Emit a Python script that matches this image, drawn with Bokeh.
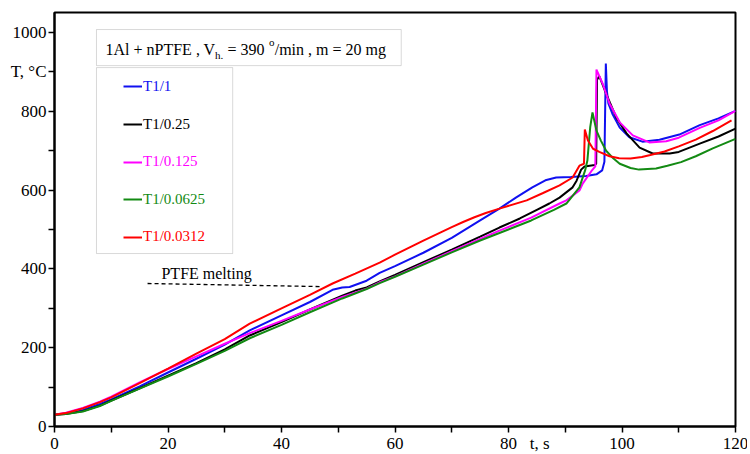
from bokeh.plotting import figure
from bokeh.models import (Range1d, FixedTicker, Label, BoxAnnotation, Legend, LegendItem)
from bokeh.embed import file_html
from bokeh.resources import INLINE

# ---------------- data ----------------
t_blue = [0, 2, 5, 8, 10, 15, 20, 25, 30, 34.4, 40, 45, 49, 50.7, 52, 55, 57.3, 60, 65, 70, 75,
          78.4, 81.3, 84.2, 86.5, 88.4, 91, 93.7, 95.5, 96.5, 96.9, 97.15, 97.35, 97.6, 98.3,
          99.6, 101.3, 103.6, 106.6, 110.1, 113.7, 117, 120]
T_blue = [30, 33, 42, 57, 69, 102, 137, 172, 208, 244, 282, 316, 347, 353, 354, 370, 390, 407,
          441, 479, 523, 553, 581, 607, 625, 632, 633, 636, 640, 650, 672, 921, 850, 820, 794,
          759, 734, 723, 728, 741, 765, 782, 801]

t_black = [0, 2, 5, 8, 10, 15, 20, 25, 30, 34.4, 40, 45, 50.7, 53, 55, 57.3, 60, 65, 70, 75,
           78.4, 82, 85, 87.2, 89, 91.3, 92, 92.8, 93.4, 95.2, 95.45, 95.6, 96, 97.2, 99, 100.8,
           103.1, 105.4, 108.4, 110, 113.7, 117, 120]
T_black = [30, 32, 39, 53, 66, 97, 129, 161, 196, 231, 265, 297, 332, 345, 353, 368, 385, 417,
           449, 482, 505, 528, 550, 566, 581, 607, 624, 652, 660, 664, 667, 880, 889, 845, 784,
           744, 708, 693, 693, 697, 718, 736, 756]

t_magenta = [0, 2, 5, 8, 10, 15, 20, 25, 30, 34.4, 40, 45, 50.7, 55, 57.3, 60, 65, 70, 75,
             78.4, 84, 89, 90.2, 92.5, 93.1, 94.6, 95.3, 95.5, 96.6, 97.8, 99.6, 101.9, 104.8,
             107.8, 110, 113.7, 117, 120]
T_magenta = [30, 35, 47, 63, 76, 112, 146, 178, 210, 237, 268, 297, 329, 350, 366, 381, 413,
             445, 476, 497, 530, 566, 574, 599, 617, 648, 660, 906, 870, 820, 772, 739, 721,
             724, 733, 758, 777, 801]

t_green = [0, 2, 5, 8, 10, 15, 20, 25, 30, 34.4, 40, 45, 50.7, 55, 57.3, 60, 65, 70, 75, 78.4,
           84, 88, 90.2, 92.5, 93.5, 93.9, 94.4, 94.8, 95.5, 96.3, 97.2, 98.5, 99.6, 101.5, 103,
           106, 108, 110.4, 113, 116, 120]
T_green = [30, 32, 38, 52, 65, 96, 127, 159, 192, 224, 258, 290, 325, 349, 364, 380, 411, 442,
           472, 491, 523, 550, 566, 607, 650, 675, 760, 797, 751, 725, 700, 680, 667, 656, 652,
           655, 662, 671, 686, 706, 730]

t_red = [0, 2, 5, 8, 10, 15, 20, 25, 30, 34.4, 40, 45, 49, 53, 57.3, 60, 65, 70, 72, 74, 76,
         78.4, 83.2, 86, 89, 91.3, 92.5, 93.3, 93.45, 94.0, 94.9, 96, 97.8, 99.5, 101.5, 103.5,
         105, 107.5, 110, 113, 116, 119.3]
T_red = [30, 34, 46, 62, 74, 110, 147, 185, 222, 261, 300, 334, 363, 388, 416, 436, 472, 506,
         519, 531, 542, 553, 574, 592, 612, 632, 662, 667, 754, 726, 705, 697, 686, 681, 680,
         684, 689, 698, 711, 728, 750, 777]

series_names = ["T1/1", "T1/0.25", "T1/0.125", "T1/0.0625", "T1/0.0312"]
series_colors = ["#1010f0", "#000000", "#ff00ff", "#138a13", "#ff0000"]

x_label_ticks = [0, 20, 40, 60, 80, 100, 120]
x_mark_ticks = [0, 10, 20, 30, 40, 50, 60, 70, 80, 90, 100, 110, 120]
x_name_pos = 85.5
x_name = "t, s"
y_label_ticks = [0, 200, 400, 600, 800, 900, 1000]
y_mark_ticks = [0, 100, 200, 300, 400, 500, 600, 700, 800, 900, 1000]
y_labels = {0: "0", 200: "200", 400: "400", 600: "600", 800: "800", 900: "T, \u00b0C",
            1000: "1000"}

ptfe_x = [16.4, 47.2]
ptfe_y = [363, 355]

FONT = "'Liberation Serif', 'Times New Roman', serif"

# ---------------- figure ----------------
p = figure(frame_width=681, frame_height=414, output_backend="svg", toolbar_location=None,
           x_range=Range1d(0, 120), y_range=Range1d(0, 1050.8),
           min_border_left=54, min_border_top=12, min_border_right=12, min_border_bottom=26)
p.grid.visible = False
p.outline_line_color = "black"
p.outline_line_width = 2
p.background_fill_color = "white"
p.border_fill_color = "white"

for ax in (p.xaxis[0], p.yaxis[0]):
    ax.axis_line_width = 2
    ax.axis_line_color = "black"
    ax.major_tick_in = 0
    ax.major_tick_out = 0
    ax.minor_tick_in = 0
    ax.minor_tick_out = 6
    ax.minor_tick_line_width = 1.5
    ax.minor_tick_line_color = "black"
    ax.major_label_text_font = FONT
    ax.major_label_text_font_size = "17px"
    ax.major_label_text_color = "black"

p.xaxis[0].ticker = FixedTicker(ticks=x_label_ticks + [x_name_pos], minor_ticks=x_mark_ticks)
p.xaxis[0].major_label_overrides = {x_name_pos: x_name}
p.xaxis[0].major_label_standoff = 1
p.yaxis[0].ticker = FixedTicker(ticks=y_label_ticks, minor_ticks=y_mark_ticks)
p.yaxis[0].major_label_overrides = y_labels
p.yaxis[0].major_label_standoff = 2

# ---------------- curves ----------------
data = [(t_blue, T_blue), (t_black, T_black), (t_magenta, T_magenta), (t_green, T_green),
        (t_red, T_red)]
renderers = []
for (tx, ty), col in zip(data, series_colors):
    r = p.line(tx, ty, line_color=col, line_width=2)
    renderers.append(r)

# PTFE melting annotation
p.line(ptfe_x, ptfe_y, line_color="black", line_width=1.3, line_dash="4 3")
p.add_layout(Label(x=18.85, y=388, text="PTFE melting", text_font=FONT, text_font_size="16px",
                   text_color="black", text_baseline="middle", text_align="left"))

# title box
p.add_layout(BoxAnnotation(left=7.4, right=61.1, bottom=916, top=1007.6, fill_color="white",
                           fill_alpha=1, line_color="#808080", line_width=1, level="annotation"))
ty_mid = 957.6
title_parts = [
    (8.99, ty_mid, "1Al + nPTFE , V", "16px"),
    (28.3, 944, "h.", "11px"),
    (30.5, ty_mid, "= 390", "16px"),
    (37.8, 976, "o", "11px"),
    (38.8, ty_mid, "/min , m = 20 mg", "16px"),
]
for x, y, txt, fs in title_parts:
    p.add_layout(Label(x=x, y=y, text=txt, text_font=FONT, text_font_size=fs,
                       text_color="black", text_baseline="middle", text_align="left"))

# legend box
p.add_layout(BoxAnnotation(left=7.4, right=31.4, bottom=439, top=911, fill_color="white",
                           fill_alpha=1, line_color="#808080", line_width=1, level="annotation"))
legend_centers = [86, 124, 161.5, 199, 236.5]  # page pixel rows of entries
for r, name, col, yc in zip(renderers, series_names, series_colors, legend_centers):
    leg = Legend(items=[LegendItem(label=name, renderers=[r])],
                 location=(69, 426 - yc - 9), orientation="vertical",
                 border_line_color=None, background_fill_alpha=0, padding=0, margin=0,
                 spacing=0, glyph_width=19, glyph_height=18, label_height=18,
                 label_standoff=1, label_text_font=FONT, label_text_font_size="15px",
                 label_text_color=col, label_text_baseline="middle")
    p.add_layout(leg)

open("out.html", "w").write(file_html(p, INLINE))
